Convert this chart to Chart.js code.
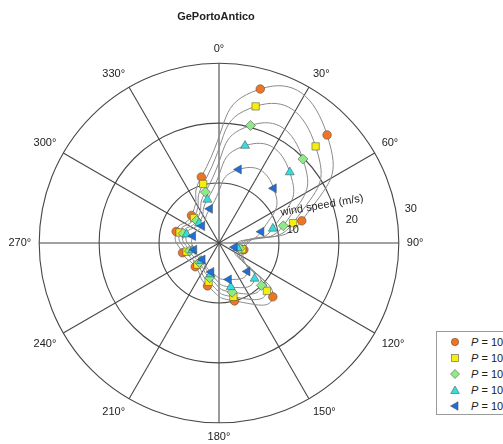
<!DOCTYPE html>
<html>
<head>
<meta charset="utf-8">
<title>GePortoAntico</title>
<script src="https://cdn.jsdelivr.net/npm/chart.js@4.4.1/dist/chart.umd.min.js"></script>
<style>
  html, body { margin: 0; padding: 0; background: #fff; overflow: hidden; }
  #wrap { position: relative; width: 503px; height: 444px; }
  #legend {
    position: absolute; left: 436px; top: 331px; width: 110px; height: 82px;
    border: 1px solid #9a9a9a; background: #fff;
    font: 11px 'Liberation Sans', Arial, sans-serif; color: #222;
  }
  #legend .row { position: absolute; left: 0; height: 16px; line-height: 16px; white-space: nowrap; }
  #legend svg { position: absolute; left: 12px; top: 3px; }
  #legend span { position: absolute; left: 34px; }
</style>
</head>
<body>
<div id="wrap">
  <canvas id="windChart"></canvas>
  <div id="legend"></div>
</div>
<script>
// directions of the radar spokes (deg), every 15 deg
const directions = [0, 15, 30, 45, 60, 75, 90, 105, 120, 135, 150, 165,
                    180, 195, 210, 225, 240, 255, 270, 285, 300, 315, 330, 345];
// directions where the data were sampled
const sampleDirs = [15, 45, 75, 105, 135, 165, 195, 225, 255, 285, 315, 345];
const speedTicks = [10, 20, 30];

// wind speed (m/s) per pressure class
const p1 = [26.6, 25.5, 14.3, 4.3, 12.7, 10.0, 7.4, 5.6, 6.3, 7.4, 6.5, 11.4];
const p2 = [23.6, 22.8, 12.8, 4.0, 11.3, 9.3, 6.7, 5.1, 5.6, 6.8, 5.9, 10.2];
const p3 = [20.3, 19.8, 11.1, 3.6, 10.0, 8.5, 6.0, 4.6, 5.1, 6.2, 5.3, 8.8];
const p4 = [16.8, 16.7, 9.3, 3.2, 8.4, 7.6, 5.4, 4.2, 4.6, 5.6, 4.7, 7.5];
const p5 = [12.7, 12.9, 7.3, 2.7, 6.7, 6.3, 5.0, 3.9, 4.3, 4.5, 4.0, 5.9];

const seriesNames = ['P = 1000 hPa', 'P = 1005 hPa', 'P = 1010 hPa', 'P = 1015 hPa', 'P = 1020 hPa'];
const seriesColors = ['#f07522', '#f6ee10', '#8eea86', '#33dede', '#1f6fd6'];
const seriesStyles = ['circle', 'rect', 'rectRot', 'triangle', 'triangle'];
const seriesRadius = [4.3, 5.2, 5, 5.2, 5.2];
const seriesRotation = [0, 0, 0, 0, 270];

const FONT = "'Liberation Sans', Arial, sans-serif";
Chart.defaults.font.family = FONT;
Chart.defaults.font.size = 11;
Chart.defaults.color = '#222';

// spread the sampled values onto the 24 spokes, gaps elsewhere
function toSpokes(values) {
  return directions.map(d => {
    const k = sampleDirs.indexOf(d);
    return k >= 0 ? values[k] : null;
  });
}

const datasets = [p1, p2, p3, p4, p5].map((vals, i) => ({
  label: seriesNames[i],
  data: toSpokes(vals),
  spanGaps: true,
  fill: false,
  tension: 0.62,
  borderColor: '#8a8a8a',
  borderWidth: 1,
  pointStyle: seriesStyles[i],
  pointRotation: seriesRotation[i],
  pointRadius: seriesRadius[i],
  pointBackgroundColor: seriesColors[i],
  pointBorderColor: 'rgba(70,70,70,0.75)',
  pointBorderWidth: 0.7
}));
// draw the smallest loops last so they sit on top like the original
datasets.reverse();

const radialText = {
  id: 'radialText',
  afterDatasetsDraw(chart) {
    const r = chart.scales.r;
    const ctx = chart.ctx;
    ctx.save();
    ctx.font = '11px ' + FONT;
    ctx.fillStyle = '#222';
    ctx.textAlign = 'center';
    ctx.textBaseline = 'middle';
    const a = 80 * Math.PI / 180;
    speedTicks.forEach(v => {
      const d = r.getDistanceFromCenterForValue(v) + 15;
      ctx.fillText(String(v), r.xCenter + d * Math.sin(a), r.yCenter - d * Math.cos(a));
    });
    // axis title along the radius
    const b = 70 * Math.PI / 180;
    const dt = r.drawingArea * 0.61;
    ctx.translate(r.xCenter + dt * Math.sin(b), r.yCenter - dt * Math.cos(b));
    ctx.rotate(-10 * Math.PI / 180);
    ctx.fillText('wind speed (m/s)', 0, 0);
    ctx.restore();
  }
};

const ctx = document.getElementById('windChart').getContext('2d');
new Chart(ctx, {
  type: 'radar',
  data: {
    labels: directions.map(d => d + '°'),
    datasets: datasets
  },
  options: {
    responsive: true,
    maintainAspectRatio: false,
    animation: false,
    layout: { padding: { left: 4, right: 75, top: 0, bottom: 0 } },
    plugins: {
      legend: { display: false },
      tooltip: { enabled: false },
      title: {
        display: true,
        text: 'GePortoAntico',
        fullSize: false,
        color: '#222',
        font: { size: 11, weight: 'bold' },
        padding: { top: 10, bottom: 18.8 }
      }
    },
    scales: {
      r: {
        min: 0,
        max: 30,
        ticks: { display: false, stepSize: 10 },
        grid: { circular: true, color: '#474747', lineWidth: 1.1 },
        angleLines: {
          color: '#474747',
          lineWidth: c => (directions[c.index] % 30 === 0 ? 1.1 : 0)
        },
        pointLabels: {
          padding: 8,
          color: '#222',
          font: { size: 11 },
          callback: (label, i) => (directions[i] % 30 === 0 ? label : '')
        }
      }
    }
  },
  plugins: [radialText]
});

// legend box (partly cut by the right edge, as in the original)
const legendMarks = [
  '<circle cx="6" cy="5" r="3.7"/>',
  '<rect x="2.5" y="1.5" width="7" height="7"/>',
  '<polygon points="6,0.5 10.5,5 6,9.5 1.5,5"/>',
  '<polygon points="6,1 10.3,8.5 1.7,8.5"/>',
  '<polygon points="1.5,5 9,0.7 9,9.3"/>'
];
const legendEl = document.getElementById('legend');
seriesNames.forEach((name, i) => {
  const row = document.createElement('div');
  row.className = 'row';
  row.style.top = (2 + i * 16) + 'px';
  row.innerHTML = '<svg width="12" height="10" fill="' + seriesColors[i] +
    '" stroke="rgba(70,70,70,0.75)" stroke-width="0.7">' + legendMarks[i] + '</svg>' +
    '<span><i>P</i>' + name.slice(1) + '</span>';
  legendEl.appendChild(row);
});
</script>
</body>
</html>
